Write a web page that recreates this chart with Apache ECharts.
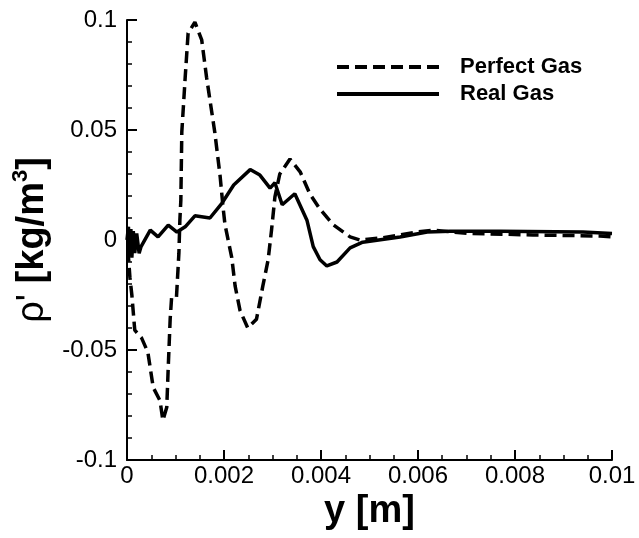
<!doctype html>
<html>
<head>
    <meta charset="utf-8" />
    <title>rho prime</title>
    <script src="https://cdn.jsdelivr.net/npm/echarts@6/dist/echarts.min.js"></script>
    <style>
        html, body { margin: 0; padding: 0; background: #fff; }
        #main { width: 639px; height: 538px; }
    </style>
</head>
<body>
<div id="main"></div>
<script>
    // values: [y, rho']
    var perfectGas = [
        [0.00002, -0.0045], [0.00006, -0.017], [0.0001, -0.025], [0.00016, -0.041],
        [0.0003, -0.0445], [0.00043, -0.051], [0.00054, -0.067], [0.00068, -0.073],
        [0.00074, -0.082], [0.00082, -0.076], [0.00085, -0.058], [0.00089, -0.036],
        [0.00092, -0.026], [0.00102, -0.026], [0.00107, -0.006], [0.00109, 0.009],
        [0.00111, 0.018], [0.00113, 0.049], [0.0012, 0.074], [0.00126, 0.094],
        [0.0014, 0.099], [0.00154, 0.091], [0.00164, 0.074], [0.00181, 0.049],
        [0.00192, 0.029], [0.00198, 0.015], [0.00202, 0.007], [0.00216, -0.008],
        [0.00223, -0.021], [0.00233, -0.032], [0.00249, -0.040], [0.00267, -0.036],
        [0.0028, -0.021], [0.00291, -0.009], [0.00298, 0.0045], [0.00305, 0.0196],
        [0.00315, 0.030], [0.00336, 0.0368], [0.00357, 0.031], [0.00377, 0.021],
        [0.00398, 0.014], [0.00425, 0.007], [0.0046, 0.0014], [0.0048, 0],
        [0.00528, 0.001], [0.00598, 0.0036], [0.00631, 0.0045], [0.00701, 0.003],
        [0.00837, 0.0023], [0.00975, 0.0018], [0.01, 0.0014]
    ];
    var realGas = [
        [0, 0], [0.00003, 0.006], [0.00005, -0.007], [0.00008, 0.005], [0.0001, -0.008],
        [0.00013, 0.004], [0.00016, -0.006], [0.0002, 0.003], [0.00025, -0.006],
        [0.00029, -0.003], [0.00048, 0.0045], [0.00064, 0.0014], [0.00085, 0.0068],
        [0.00103, 0.0036], [0.0012, 0.006], [0.0014, 0.011], [0.00171, 0.010],
        [0.00196, 0.0168], [0.0022, 0.025], [0.00254, 0.032], [0.00274, 0.0295],
        [0.00295, 0.0236], [0.00305, 0.026], [0.0032, 0.016], [0.00346, 0.021],
        [0.00371, 0.009], [0.00384, -0.003], [0.00398, -0.009], [0.00412, -0.0118],
        [0.00433, -0.010], [0.0046, -0.0036], [0.00486, -0.001], [0.00563, 0.0014],
        [0.00619, 0.0036], [0.00666, 0.004], [0.0077, 0.004], [0.0094, 0.0036],
        [0.01, 0.003]
    ];
    var seriesNames = ['Perfect Gas', 'Real Gas'];
    var xTicks = [0, 0.002, 0.004, 0.006, 0.008, 0.01];
    var yTicks = [-0.1, -0.05, 0, 0.05, 0.1];

    var myChart = echarts.init(document.getElementById('main'));
    var font = 'Liberation Sans, Arial, sans-serif';

    // legend samples: six dashes / one solid bar
    var dashIcon = 'path://M0,0h12v4h-12z M18,0h12v4h-12z M36,0h12v4h-12z M54,0h12v4h-12z M72,0h12v4h-12z M90,0h12v4h-12z';
    var solidIcon = 'path://M0,0h102v4h-102z';

    option = {
        backgroundColor: '#fff',
        animation: false,
        grid: { left: 127, right: 27, top: 20, bottom: 78 },
        legend: {
            data: [
                { name: seriesNames[0], icon: dashIcon },
                { name: seriesNames[1], icon: solidIcon }
            ],
            orient: 'vertical',
            left: 332,
            top: 51,
            itemWidth: 102,
            itemHeight: 4,
            itemGap: 5,
            itemStyle: { color: '#000', borderWidth: 0 },
            textStyle: { fontFamily: font, fontSize: 22, fontWeight: 'bold', color: '#000', padding: [0, 0, 0, 16] }
        },
        xAxis: {
            type: 'value',
            min: xTicks[0],
            max: xTicks[xTicks.length - 1],
            interval: 0.002,
            name: 'y [m]',
            nameLocation: 'middle',
            nameGap: 32,
            nameTextStyle: { fontFamily: font, fontSize: 38, fontWeight: 'bold', color: '#000' },
            axisLine: { onZero: false, lineStyle: { color: '#000', width: 2 } },
            axisTick: { inside: true, length: 10, lineStyle: { color: '#000', width: 2 } },
            minorTick: { show: true, splitNumber: 4, length: 5, lineStyle: { color: '#000', width: 1.5 } },
            axisLabel: { fontFamily: font, fontSize: 24, color: '#000', margin: 4 },
            splitLine: { show: false }
        },
        yAxis: {
            type: 'value',
            min: yTicks[0],
            max: yTicks[yTicks.length - 1],
            interval: 0.05,
            name: "{a|ρ' }{b|[kg/m}{c|3}{b|]}",
            nameLocation: 'middle',
            nameGap: 69,
            nameTextStyle: {
                color: '#000',
                rich: {
                    a: { fontFamily: font, fontSize: 38, color: '#000' },
                    b: { fontFamily: font, fontSize: 38, fontWeight: 'bold', color: '#000' },
                    c: { fontFamily: font, fontSize: 22, fontWeight: 'bold', color: '#000', padding: [0, 0, 22, 0] }
                }
            },
            axisLine: { show: true, onZero: false, lineStyle: { color: '#000', width: 2 } },
            axisTick: { inside: true, length: 10, lineStyle: { color: '#000', width: 2 } },
            minorTick: { show: true, splitNumber: 5, length: 5, lineStyle: { color: '#000', width: 1.5 } },
            axisLabel: { fontFamily: font, fontSize: 24, color: '#000', margin: 10 },
            splitLine: { show: false }
        },
        series: [{
            name: seriesNames[0],
            type: 'line',
            data: perfectGas,
            symbol: 'none',
            lineStyle: { color: '#000', width: 3.5, type: [12, 6] },
            itemStyle: { color: '#000' }
        }, {
            name: seriesNames[1],
            type: 'line',
            data: realGas,
            symbol: 'none',
            lineStyle: { color: '#000', width: 3.5, type: 'solid' },
            itemStyle: { color: '#000' }
        }]
    };
    myChart.setOption(option);
</script>
</body>
</html>
